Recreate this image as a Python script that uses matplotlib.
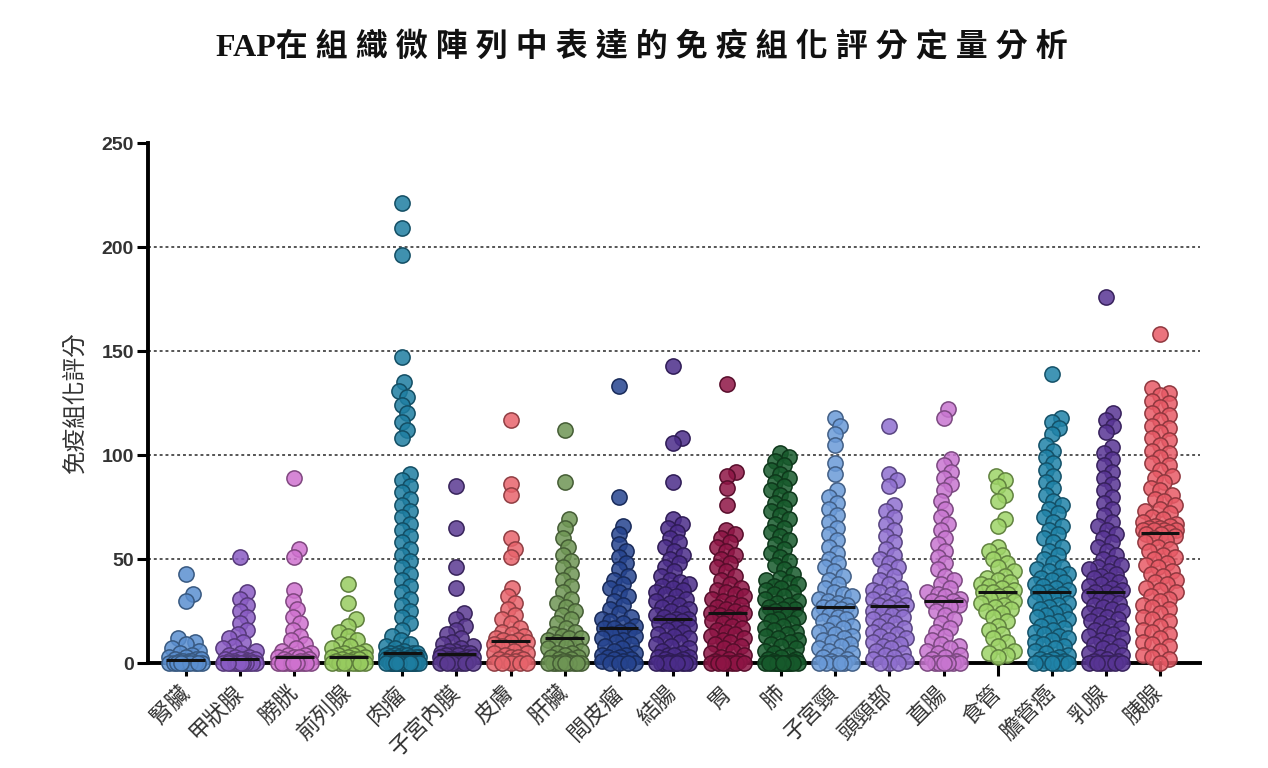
import numpy as np
import matplotlib
matplotlib.use("Agg")
import matplotlib.pyplot as plt
import matplotlib.colors as mcolors

# tissue categories (x axis)
tissues = ["腎臟", "甲狀腺", "膀胱", "前列腺", "肉瘤", "子宮內膜", "皮膚", "肝臟", "間皮瘤",
           "結腸", "胃", "肺", "子宮頸", "頭頸部", "直腸", "食管", "膽管癌", "乳腺", "胰腺"]

kidney = [43, 33, 30, 12, 10, 9, 7, 6, 5, 4, 3, 3, 2, 2, 2, 1, 1, 1, 1,
          0, 0, 0, 0, 0, 0, 0, 0, 0, 0, 0]
thyroid = [51, 34, 31, 28, 25, 22, 19, 16, 14, 12, 10, 8, 7, 6, 5, 4, 3, 3, 2, 2,
           2, 2, 1, 1, 1, 1, 0, 0, 0, 0, 0, 0, 0, 0, 0, 0, 0, 0, 0, 0]
bladder = [89, 55, 51, 35, 30, 26, 22, 19, 16, 13, 11, 9, 7, 6, 5, 4, 4, 3, 3, 3,
           2, 2, 1, 1, 1, 0, 0, 0, 0, 0, 0, 0, 0, 0, 0, 0, 0, 0]
prostate = [38, 29, 21, 18, 15, 13, 11, 9, 8, 7, 6, 5, 5, 4, 4, 3, 3, 3, 2, 2,
            2, 1, 1, 1, 0, 0, 0, 0, 0, 0, 0, 0]
sarcoma = [221, 209, 196, 147, 135, 131, 128, 124, 120, 116, 112, 108, 91, 88, 85,
           82, 79, 76, 73, 70, 67, 64, 61, 58, 55, 52, 49, 46, 43, 40, 37, 34, 31,
           28, 25, 22, 19, 16, 13, 11, 9, 8, 7, 6,
           5, 5, 5, 5, 4, 4, 4, 4, 3, 3, 3, 3, 3, 2, 2, 2, 2, 2, 2, 1, 1, 1, 1, 1,
           1, 1, 0, 0, 0, 0, 0, 0, 0, 0, 0, 0, 0, 0, 0, 0, 0, 0, 0, 0, 0, 0]
endometrium = [85, 65, 46, 36, 24, 21, 18, 16, 14, 12, 10, 9, 8, 7, 6, 6, 5, 5, 5,
               4, 4, 4, 3, 3, 3, 2, 2, 2, 1, 1, 1, 0, 0, 0, 0, 0, 0, 0]
skin = [117, 86, 81, 60, 55, 51, 36, 32, 29, 26, 23, 21, 19, 17, 15, 14, 13, 12,
        11, 11, 10, 10, 9, 8, 7, 6, 5, 5, 4, 3, 3, 2, 2, 1, 1, 0, 0, 0, 0, 0]
liver = [112, 87, 69, 65, 60, 56, 52, 49, 46, 43, 40, 37, 34, 31, 29, 27, 25, 23,
         21, 19, 17, 15, 14, 13, 12, 12, 11, 10, 9, 8, 7, 6, 5, 5, 4, 3, 3, 2, 2,
         1, 1, 0, 0, 0, 0, 0, 0, 0, 0, 0]
mesothelioma = [133, 80, 66, 62, 57, 54, 51, 48, 45, 42, 40, 38, 36, 34, 32, 30,
                28, 26, 24, 22, 21, 20, 19, 18, 17, 17, 16, 15, 14, 13, 12, 11, 10,
                9, 8, 7, 6, 5, 4, 4, 3, 3, 2, 2, 1, 1, 0, 0, 0, 0]
colon = [143, 108, 106, 87, 69, 67, 65, 63, 60, 58, 56, 54, 52, 50, 48, 46, 44, 42,
         40, 39, 38, 37, 36, 35, 34, 33, 32, 31, 30, 29, 28, 27, 26, 25, 24, 23, 22,
         21, 21, 20, 20, 19, 18, 17, 16, 15, 14, 13, 12, 11, 10, 9, 8, 7, 6, 5, 4,
         4, 3, 3, 2, 2, 1, 1, 0, 0, 0, 0, 0, 0, 0, 0, 0, 0, 0, 0]
stomach = [134, 92, 90, 84, 76, 64, 62, 60, 58, 56, 54, 52, 50, 48, 46, 44, 42, 40,
           38, 36, 35, 34, 33, 32, 31, 30, 29, 28, 27, 26, 25, 24, 24, 23, 22, 21,
           20, 19, 18, 17, 16, 15, 14, 13, 12, 11, 10, 9, 8, 7, 6, 5, 4, 3, 2, 1,
           1, 0, 0, 0, 0, 0, 0, 0]
lung = [101, 99, 97, 95, 93, 91, 89, 87, 85, 83, 81, 79, 77, 75, 73, 71, 69, 67, 65,
        63, 61, 59, 57, 55, 53, 51, 49, 47, 45, 43, 41, 40, 39, 38, 37, 36, 35, 34,
        33, 32, 31, 30, 29, 28, 27, 26, 26, 25, 24, 23, 22, 21, 20, 19, 18, 17, 16,
        15, 14, 13, 12, 11, 10, 9, 8, 7, 6, 5, 4, 3, 2, 2, 1, 1,
        0, 0, 0, 0, 0, 0, 0, 0, 0, 0, 0, 0, 0, 0, 0, 0]
cervix = [118, 114, 110, 105, 96, 91, 83, 80, 77, 74, 71, 68, 65, 62, 59, 56, 53,
          50, 48, 46, 44, 42, 40, 38, 36, 34, 33, 32, 31, 30, 29, 28, 27, 27, 26,
          25, 24, 23, 22, 21, 20, 19, 18, 17, 16, 15, 14, 13, 12, 11, 10, 9, 8, 7,
          6, 5, 4, 3, 2, 1, 0, 0, 0, 0, 0, 0]
head_neck = [114, 91, 88, 85, 76, 73, 70, 67, 64, 61, 58, 55, 52, 50, 48, 46, 44,
             42, 40, 38, 36, 35, 34, 33, 32, 31, 30, 29, 28, 28, 27, 26, 25, 24, 23,
             22, 21, 20, 19, 18, 17, 16, 15, 14, 13, 12, 11, 10, 9, 8, 7, 6, 5, 4,
             3, 2, 1, 0, 0, 0]
rectum = [122, 118, 98, 95, 92, 89, 86, 83, 78, 74, 70, 67, 64, 60, 57, 54, 51, 48,
          45, 42, 40, 38, 36, 34, 33, 32, 31, 30, 30, 29, 28, 27, 25, 23, 21, 19,
          17, 15, 13, 11, 9, 8, 7, 6, 5, 4, 3, 2, 1, 0, 0, 0, 0, 0, 0, 0]
esophagus = [90, 88, 85, 81, 78, 69, 66, 56, 54, 52, 50, 48, 46, 44, 42, 41, 40, 39,
             38, 37, 36, 35, 34, 34, 33, 32, 31, 30, 29, 28, 27, 26, 25, 24, 22, 20,
             18, 16, 14, 12, 10, 8, 6, 5, 4, 3]
cholangio = [139, 118, 116, 113, 110, 105, 102, 99, 96, 93, 90, 87, 84, 81, 78, 76,
             74, 72, 70, 68, 66, 64, 62, 60, 58, 56, 54, 52, 50, 48, 46, 45, 44, 43,
             42, 41, 40, 39, 38, 37, 36, 35, 34, 34, 33, 32, 31, 30, 29, 28, 27, 26,
             25, 24, 23, 22, 21, 20, 19, 18, 17, 16, 15, 14, 13, 12, 11, 10, 9, 8,
             7, 6, 5, 4, 3, 2, 2, 1, 1, 0, 0, 0, 0, 0, 0]
breast = [176, 120, 117, 114, 111, 104, 101, 98, 95, 92, 89, 86, 83, 80, 77, 74, 71,
          68, 66, 64, 62, 60, 58, 56, 54, 52, 50, 48, 47, 46, 45, 44, 43, 42, 41,
          40, 39, 38, 37, 36, 35, 34, 34, 33, 32, 31, 30, 29, 28, 27, 26, 25, 24,
          23, 22, 21, 20, 19, 18, 17, 16, 15, 14, 13, 12, 11, 10, 9, 8, 7, 6, 5, 4,
          3, 2, 1, 1, 0, 0, 0, 0, 0, 0, 0]
pancreas = [158, 132, 130, 129, 126, 125, 123, 120, 119, 117, 114, 113, 111, 108,
            107, 105, 102, 101, 99, 96, 95, 93, 90, 89, 87, 84, 83, 81, 79, 78, 76,
            74, 73, 72, 70, 69, 68, 67, 66, 66, 65, 65, 64, 64, 64, 64, 63, 62, 62,
            61, 60, 59, 58, 56, 55, 54, 52, 51, 50, 48, 47, 46, 44, 43, 42, 40, 39,
            38, 36, 35, 34, 32, 31, 30, 28, 27, 26, 24, 22, 21, 20, 18, 16, 15, 14,
            12, 10, 9, 8, 6, 4, 3, 2, 0]

scores = [kidney, thyroid, bladder, prostate, sarcoma, endometrium, skin, liver,
          mesothelioma, colon, stomach, lung, cervix, head_neck, rectum, esophagus,
          cholangio, breast, pancreas]

colors = ["#5b8fd0", "#8a5cc4", "#cf72cf", "#98cc60", "#1e7ea1", "#5b3a92",
          "#e8646c", "#6f9655", "#26448f", "#4b2d8a", "#8e1545", "#175a2c",
          "#6a9ad8", "#9070d0", "#c876d0", "#9ed468", "#2083a8", "#583594",
          "#e85a66"]

yticks = [0, 50, 100, 150, 200, 250]

CJK = "Noto Sans CJK TC"

fig = plt.figure(figsize=(12.68, 7.68), dpi=100)
ax = fig.add_axes([0.1167, 0.1367, 0.8297, 0.6771])
ax.set_xlim(-0.70, 18.74)
ax.set_ylim(0, 250)


def swarm_offsets(vals, xc, dmin=9.0, maxw=16.5, step=1.5):
    # simple beeswarm done in display pixels, returns x in data units
    trans = ax.transData
    order = np.argsort(vals)
    pix = trans.transform(np.column_stack([np.full(len(vals), xc), vals]))
    px_per_x = trans.transform([(1, 0)])[0, 0] - trans.transform([(0, 0)])[0, 0]
    cands = [0.0]
    k = 1
    while k * step <= maxw:
        cands += [k * step, -k * step]
        k += 1
    placed = []
    xs = np.zeros(len(vals))
    for i in order:
        py = pix[i, 1]
        best, best_d = 0.0, -1
        for c in cands:
            if placed:
                p = np.array(placed)
                d = np.sqrt((p[:, 0] - c) ** 2 + (p[:, 1] - py) ** 2).min()
            else:
                d = np.inf
            if d >= dmin:
                best = c
                break
            if d > best_d:
                best, best_d = c, d
        placed.append((best, py))
        xs[i] = xc + best / px_per_x
    return xs


# dotted grid lines
for g in yticks[1:-1]:
    ax.axhline(g, color="#555555", lw=1.4, ls=(0, (1.5, 1.5)), zorder=1)

for i, (vals, col) in enumerate(zip(scores, colors)):
    vals = np.array(vals, dtype=float)
    xs = swarm_offsets(vals, i)
    rgb = np.array(mcolors.to_rgb(col))
    ax.scatter(xs, vals, s=120, facecolor=(*rgb, 0.85), edgecolor=tuple(rgb * 0.62),
               linewidth=1.1, zorder=3, clip_on=False)
    med = np.median(vals)
    ax.hlines(med, i - 0.36, i + 0.36, color="#111111", lw=2.2, zorder=4)

# axes styling
for side in ["top", "right"]:
    ax.spines[side].set_visible(False)
ax.spines["left"].set_linewidth(2.8)
ax.spines["bottom"].set_linewidth(2.8)
ax.spines["bottom"].set_zorder(2)
ax.set_yticks(yticks)
ax.set_yticklabels([str(t) for t in yticks], fontfamily="Liberation Sans",
                   fontweight="bold", fontsize=14, color="#333333")
ax.tick_params(axis="y", length=8, width=2.2, pad=2)
ax.tick_params(axis="x", length=9, width=2.2, pad=10)
ax.set_xticks(range(len(tissues)))
ax.set_xticklabels(tissues, rotation=45, ha="right", va="center",
                   rotation_mode="anchor", fontfamily=CJK, fontsize=16,
                   fontweight="light", color="#333333")

ax.set_ylabel("免疫組化評分", fontfamily=CJK, fontsize=17, fontweight="light",
              color="#333333")
ax.yaxis.set_label_coords(-0.058, 0.5)

title_chars = "在組織微陣列中表達的免疫組化評分定量分析"
fig.text(0.506, 0.938, "FAP" + " ".join(title_chars), ha="center", va="center",
         fontsize=23, fontweight="bold", family=["Liberation Serif", CJK],
         color="#111111")

fig.savefig("out.png", dpi=100)
